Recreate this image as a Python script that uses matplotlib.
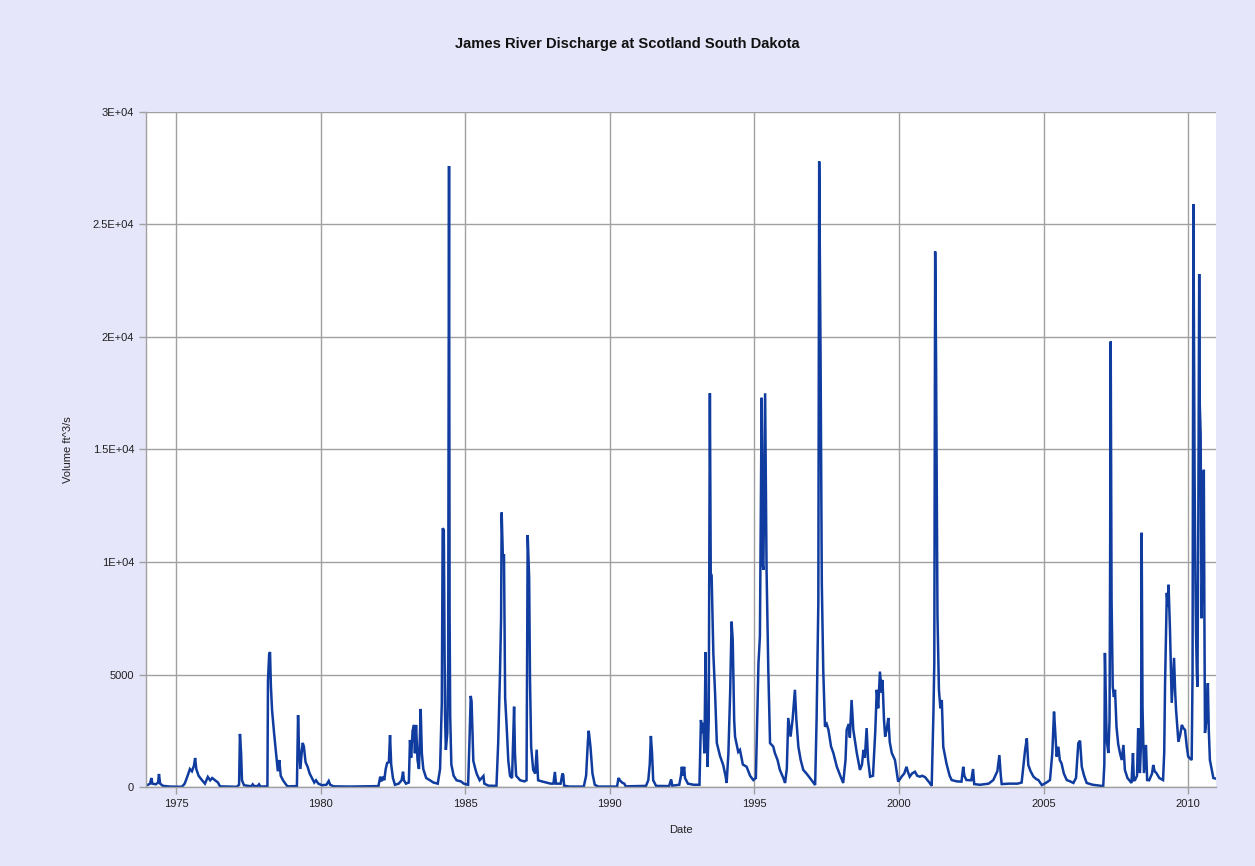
import numpy as np
import matplotlib
matplotlib.use("Agg")
import matplotlib.pyplot as plt

plt.rcParams['font.family'] = ['Liberation Sans', 'DejaVu Sans']

# Daily discharge, James River at Scotland SD (decimal year, ft^3/s)
years = [
    1974.03, 1974.10, 1974.15, 1974.18, 1974.30, 1974.38, 1974.41, 1974.45, 1974.55, 1974.80,
    1975.20, 1975.30, 1975.40, 1975.48, 1975.55, 1975.62, 1975.66, 1975.70, 1975.78, 1975.90,
    1976.00, 1976.10, 1976.18, 1976.25, 1976.35, 1976.45, 1976.52, 1977.10, 1977.18, 1977.21,
    1977.25, 1977.28, 1977.35, 1977.60, 1977.65, 1977.70, 1977.82, 1977.87, 1977.92, 1978.16,
    1978.18, 1978.22, 1978.25, 1978.28, 1978.32, 1978.39, 1978.46, 1978.52, 1978.57, 1978.62,
    1978.70, 1978.78, 1978.85, 1979.18, 1979.20, 1979.22, 1979.25, 1979.30, 1979.35, 1979.38,
    1979.42, 1979.48, 1979.55, 1979.62, 1979.70, 1979.78, 1979.84, 1979.92, 1980.05, 1980.20,
    1980.28, 1980.33, 1980.45, 1981.00, 1981.50, 1982.00, 1982.06, 1982.10, 1982.16, 1982.20,
    1982.25, 1982.30, 1982.36, 1982.40, 1982.44, 1982.50, 1982.57, 1982.70, 1982.80, 1982.85,
    1982.88, 1982.95, 1983.05, 1983.09, 1983.13, 1983.18, 1983.23, 1983.26, 1983.30, 1983.35,
    1983.40, 1983.46, 1983.50, 1983.55, 1983.65, 1983.78, 1983.90, 1984.05, 1984.13, 1984.19,
    1984.22, 1984.26, 1984.30, 1984.33, 1984.38, 1984.41, 1984.44, 1984.46, 1984.48, 1984.52,
    1984.60, 1984.70, 1984.85, 1984.95, 1985.10, 1985.15, 1985.19, 1985.22, 1985.28, 1985.35,
    1985.40, 1985.50, 1985.63, 1985.66, 1985.80, 1986.08, 1986.14, 1986.20, 1986.24, 1986.26,
    1986.30, 1986.34, 1986.38, 1986.43, 1986.49, 1986.55, 1986.62, 1986.69, 1986.72, 1986.76,
    1986.90, 1987.05, 1987.12, 1987.16, 1987.21, 1987.24, 1987.28, 1987.35, 1987.42, 1987.47,
    1987.52, 1987.65, 1987.80, 1987.95, 1988.05, 1988.10, 1988.14, 1988.25, 1988.30, 1988.36,
    1988.39, 1988.42, 1988.60, 1989.10, 1989.18, 1989.24, 1989.27, 1989.33, 1989.40, 1989.48,
    1989.60, 1990.25, 1990.30, 1990.35, 1990.42, 1990.50, 1990.55, 1991.25, 1991.33, 1991.38,
    1991.42, 1991.46, 1991.50, 1991.60, 1992.05, 1992.12, 1992.16, 1992.40, 1992.46, 1992.49,
    1992.53, 1992.57, 1992.60, 1992.70, 1992.90, 1993.10, 1993.15, 1993.20, 1993.23, 1993.27,
    1993.31, 1993.34, 1993.38, 1993.42, 1993.46, 1993.49, 1993.52, 1993.58, 1993.64, 1993.70,
    1993.81, 1993.92, 1994.00, 1994.04, 1994.10, 1994.16, 1994.21, 1994.25, 1994.30, 1994.33,
    1994.44, 1994.50, 1994.60, 1994.73, 1994.85, 1994.96, 1995.05, 1995.14, 1995.19, 1995.25,
    1995.28, 1995.31, 1995.37, 1995.42, 1995.48, 1995.54, 1995.65, 1995.71, 1995.80, 1995.88,
    1996.00, 1996.06, 1996.12, 1996.17, 1996.25, 1996.32, 1996.40, 1996.45, 1996.52, 1996.60,
    1996.69, 1996.80, 1996.92, 1997.10, 1997.15, 1997.21, 1997.24, 1997.27, 1997.29, 1997.33,
    1997.38, 1997.44, 1997.50, 1997.56, 1997.65, 1997.73, 1997.85, 1997.96, 1998.07, 1998.15,
    1998.19, 1998.26, 1998.30, 1998.36, 1998.42, 1998.54, 1998.65, 1998.72, 1998.77, 1998.82,
    1998.88, 1998.93, 1999.00, 1999.10, 1999.18, 1999.23, 1999.28, 1999.34, 1999.40, 1999.43,
    1999.48, 1999.52, 1999.58, 1999.63, 1999.68, 1999.75, 1999.86, 1999.97, 2000.09, 2000.18,
    2000.26, 2000.30, 2000.37, 2000.45, 2000.55, 2000.63, 2000.72, 2000.80, 2000.90, 2001.05,
    2001.13, 2001.19, 2001.22, 2001.25, 2001.28, 2001.33, 2001.38, 2001.43, 2001.48, 2001.53,
    2001.64, 2001.75, 2001.82, 2002.00, 2002.16, 2002.22, 2002.26, 2002.33, 2002.50, 2002.56,
    2002.60, 2002.80, 2003.10, 2003.26, 2003.40, 2003.47, 2003.52, 2003.55, 2003.80, 2004.10,
    2004.24, 2004.36, 2004.42, 2004.47, 2004.55, 2004.65, 2004.75, 2004.82, 2004.94, 2005.10,
    2005.22, 2005.30, 2005.36, 2005.40, 2005.45, 2005.51, 2005.56, 2005.62, 2005.70, 2005.80,
    2005.92, 2006.03, 2006.12, 2006.20, 2006.26, 2006.32, 2006.40, 2006.49, 2006.70, 2007.00,
    2007.06, 2007.10, 2007.12, 2007.15, 2007.18, 2007.24, 2007.28, 2007.30, 2007.32, 2007.35,
    2007.39, 2007.43, 2007.47, 2007.52, 2007.58, 2007.64, 2007.70, 2007.76, 2007.81, 2007.90,
    2008.04, 2008.09, 2008.12, 2008.16, 2008.23, 2008.27, 2008.31, 2008.33, 2008.37, 2008.39,
    2008.42, 2008.47, 2008.54, 2008.58, 2008.65, 2008.75, 2008.79, 2008.84, 2008.90, 2009.00,
    2009.13, 2009.17, 2009.20, 2009.26, 2009.29, 2009.32, 2009.37, 2009.43, 2009.51, 2009.55,
    2009.58, 2009.66, 2009.72, 2009.78, 2009.84, 2009.89, 2009.95, 2010.00, 2010.12, 2010.15,
    2010.18, 2010.20, 2010.22, 2010.25, 2010.27, 2010.30, 2010.32, 2010.35, 2010.38, 2010.40,
    2010.43, 2010.46, 2010.50, 2010.54, 2010.56, 2010.58, 2010.63, 2010.68, 2010.71, 2010.75,
    2010.87, 2010.93,
]

flow = [
    100, 150, 400, 150, 120, 200, 580, 150, 50, 20,
    10, 150, 500, 800, 700, 950, 1290, 800, 500, 300,
    150, 450, 300, 400, 300, 200, 30, 10, 100, 2360,
    1500, 300, 80, 30, 120, 40, 40, 120, 20, 30,
    4760, 5900, 6000, 4500, 3430, 2400, 1500, 700, 1200, 500,
    300, 150, 30, 40, 1500, 3200, 1800, 800, 1600, 1960,
    1800, 1100, 900, 600, 400, 200, 300, 150, 80, 100,
    270, 100, 30, 20, 30, 40, 460, 250, 460, 300,
    800, 1070, 1100, 2310, 1000, 400, 100, 150, 300, 680,
    300, 150, 200, 2090, 1300, 2500, 2760, 1500, 2760, 1200,
    800, 3470, 1500, 800, 400, 300, 200, 150, 800, 3740,
    11500, 11430, 3300, 1650, 2400, 5500, 27600, 7700, 3160, 1000,
    500, 300, 250, 150, 100, 2180, 4050, 3800, 1160, 800,
    580, 300, 490, 150, 60, 50, 1960, 4940, 7500, 12200,
    10300, 10300, 3960, 2760, 1160, 490, 400, 3570, 1500, 500,
    300, 250, 300, 11200, 9300, 4760, 1780, 760, 600, 1660,
    300, 250, 200, 150, 150, 670, 150, 150, 150, 600,
    530, 60, 20, 20, 500, 2000, 2500, 1800, 600, 100,
    20, 20, 400, 300, 200, 150, 30, 50, 300, 1000,
    2270, 1500, 300, 50, 40, 340, 60, 100, 500, 900,
    500, 900, 400, 150, 100, 100, 2980, 2400, 2850, 1500,
    6000, 3000, 900, 3000, 17500, 9500, 9400, 5930, 4150, 1960,
    1380, 980, 500, 180, 1500, 4140, 7350, 6540, 2980, 2240,
    1560, 1650, 1000, 900, 500, 310, 400, 5500, 6700, 17300,
    10000, 9650, 17500, 9650, 5200, 1950, 1800, 1500, 1200, 760,
    400, 180, 800, 3070, 2240, 3000, 4320, 3000, 1790, 1200,
    760, 600, 400, 90, 2980, 8170, 27800, 22000, 18600, 9070,
    5200, 2680, 2800, 2540, 1800, 1510, 900, 530, 180, 1200,
    2540, 2800, 2200, 3870, 2540, 1510, 760, 1000, 1650, 1300,
    2620, 1200, 460, 500, 2500, 4320, 3500, 5130, 4200, 4760,
    3000, 2240, 2600, 3070, 2000, 1510, 1200, 240, 460, 600,
    900, 700, 460, 600, 680, 500, 460, 500, 440, 200,
    50, 3290, 5500, 23800, 19200, 7580, 4320, 3500, 3870, 1790,
    1050, 500, 310, 250, 240, 900, 500, 310, 300, 800,
    130, 100, 150, 310, 700, 1420, 500, 130, 150, 150,
    200, 1650, 2160, 980, 700, 460, 350, 310, 85, 200,
    310, 1500, 3350, 2500, 1350, 1790, 1200, 1050, 600, 310,
    250, 180, 400, 1950, 2060, 900, 500, 180, 100, 50,
    0, 1000, 5960, 4000, 2090, 1510, 3000, 10100, 19800, 8320,
    4460, 4000, 4320, 2680, 1900, 1510, 1200, 1870, 760, 400,
    180, 1510, 300, 310, 500, 2620, 900, 620, 2000, 11300,
    3570, 620, 1870, 310, 300, 600, 980, 700, 620, 400,
    310, 1500, 4620, 8630, 8000, 8990, 6980, 3740, 5740, 4200,
    3430, 2020, 2300, 2760, 2600, 2540, 1800, 1350, 1200, 5000,
    25900, 19800, 14000, 9000, 6850, 5000, 4460, 12000, 22800, 17000,
    15700, 7500, 10000, 14100, 7500, 2400, 3000, 4620, 2600, 1200,
    400, 380,
]

year_ticks = [1975, 1980, 1985, 1990, 1995, 2000, 2005, 2010]
y_ticks = [0, 5000, 10000, 15000, 20000, 25000, 30000]
y_tick_labels = ['0', '5000', '1E+04', '1.5E+04', '2E+04', '2.5E+04', '3E+04']

bg = '#E6E6FA'
grid_col = '#A0A0A0'

fig = plt.figure(figsize=(12.55, 8.66), dpi=100, facecolor=bg)
ax = fig.add_axes([0.1163, 0.0912, 0.8526, 0.7795])
ax.set_facecolor('white')

ax.plot(years, flow, color='#0F3C9E', linewidth=1.8, solid_joinstyle='miter')

ax.set_xlim(1973.96, 2010.96)
ax.set_ylim(0, 30000)
ax.set_xticks(year_ticks)
ax.set_xticklabels([str(y) for y in year_ticks])
ax.set_yticks(y_ticks)
ax.set_yticklabels(y_tick_labels)

ax.grid(True, color=grid_col, linewidth=1.0)
ax.set_axisbelow(True)
for side in ['top', 'right']:
    ax.spines[side].set_visible(False)
for side in ['left', 'bottom']:
    ax.spines[side].set_color(grid_col)
    ax.spines[side].set_linewidth(1.0)
ax.tick_params(axis='both', colors=grid_col, labelcolor='#202020',
               labelsize=8, length=5, width=1.0)

ax.set_xlabel('Date', fontsize=8, color='#202020', labelpad=12)
ax.set_ylabel('Volume ft^3/s', fontsize=8, color='#202020', labelpad=14)

fig.text(0.5, 0.949, 'James River Discharge at Scotland South Dakota',
         ha='center', va='center', fontsize=10.6, fontweight='bold', color='#111111')

fig.savefig('out.png', dpi=100, facecolor=bg)
